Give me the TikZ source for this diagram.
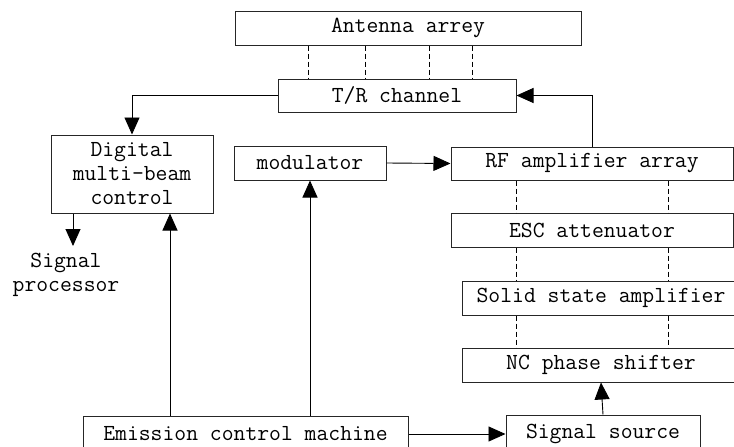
\documentclass[tikz,border=0pt]{standalone}
\usepackage{fontspec}
\usetikzlibrary{arrows.meta}
\tikzset{
  box/.style={draw=black!85, line width=1pt, inner sep=0pt, font=\ttfamily\fontsize{23}{24}\selectfont, align=center},
  lbl/.style={inner sep=0pt, font=\ttfamily\fontsize{23}{24}\selectfont, align=center},
  arr/.style={draw=black, line width=0.9pt, -{Triangle[length=17pt,width=15pt]}},
  dsh/.style={draw=black, line width=0.9pt, dash pattern=on 5pt off 3pt}
}
\begin{document}
\begin{tikzpicture}[x=1pt,y=-1pt]
\useasboundingbox (0,0) rectangle (734,447);
\node[box, minimum width=346, minimum height=34] (ant) at (408,28) {Antenna arrey};
\node[box, minimum width=238, minimum height=33] (tr) at (397,95.5) {T/R channel};
\node[box, minimum width=162, minimum height=78] (dig) at (132,174) {Digital\\multi-beam\\control};
\node[box, minimum width=152, minimum height=34] (mod) at (310,163) {modulator};
\node[box, minimum width=282, minimum height=33] (rf) at (592,163.5) {RF amplifier array};
\node[box, minimum width=282, minimum height=34] (esc) at (592,230) {ESC attenuator};
\node[box, minimum width=278, minimum height=34] (ssa) at (601,298) {Solid state amplifier};
\node[box, minimum width=278, minimum height=34] (nc) at (601,365) {NC phase shifter};
\node[box, minimum width=194, minimum height=37] (src) at (603,433.5) {Signal source};
\node[box, minimum width=325, minimum height=36] (emi) at (245.5,434) {Emission control machine};
\node[lbl] (spt) at (66,275) {Signal\\processor};

\coordinate (sp) at (73,246);
\coordinate (xe) at (170,0);
\foreach \n/\x in {a/308,b/365,c/429,d/472} {\coordinate (d\n) at (\x,0);}
\coordinate (dl) at (516,0);
\coordinate (dr) at (668,0);

% dashed links
\foreach \n in {a,b,c,d} {\draw[dsh] (ant.south -| d\n) -- (tr.north -| d\n);}
\foreach \c in {dl,dr} {
  \draw[dsh] (rf.south -| \c) -- (esc.north -| \c);
  \draw[dsh] (esc.south -| \c) -- (ssa.north -| \c);
  \draw[dsh] (ssa.south -| \c) -- (nc.north -| \c);
}

% arrows
\draw[arr] (tr.west) -| (dig.north);
\draw[arr] (rf.north) |- (tr.east);
\draw[arr] (mod.east) -- (rf.west);
\draw[arr] (dig.south -| sp) -- (sp);
\draw[arr] (emi.north -| xe) -- (dig.south -| xe);
\draw[arr] (emi.north -| mod.south) -- (mod.south);
\draw[arr] (emi.east) -- (emi.east -| src.west);
\draw[arr] (src.north) -- (nc.south);
\end{tikzpicture}
\end{document}
